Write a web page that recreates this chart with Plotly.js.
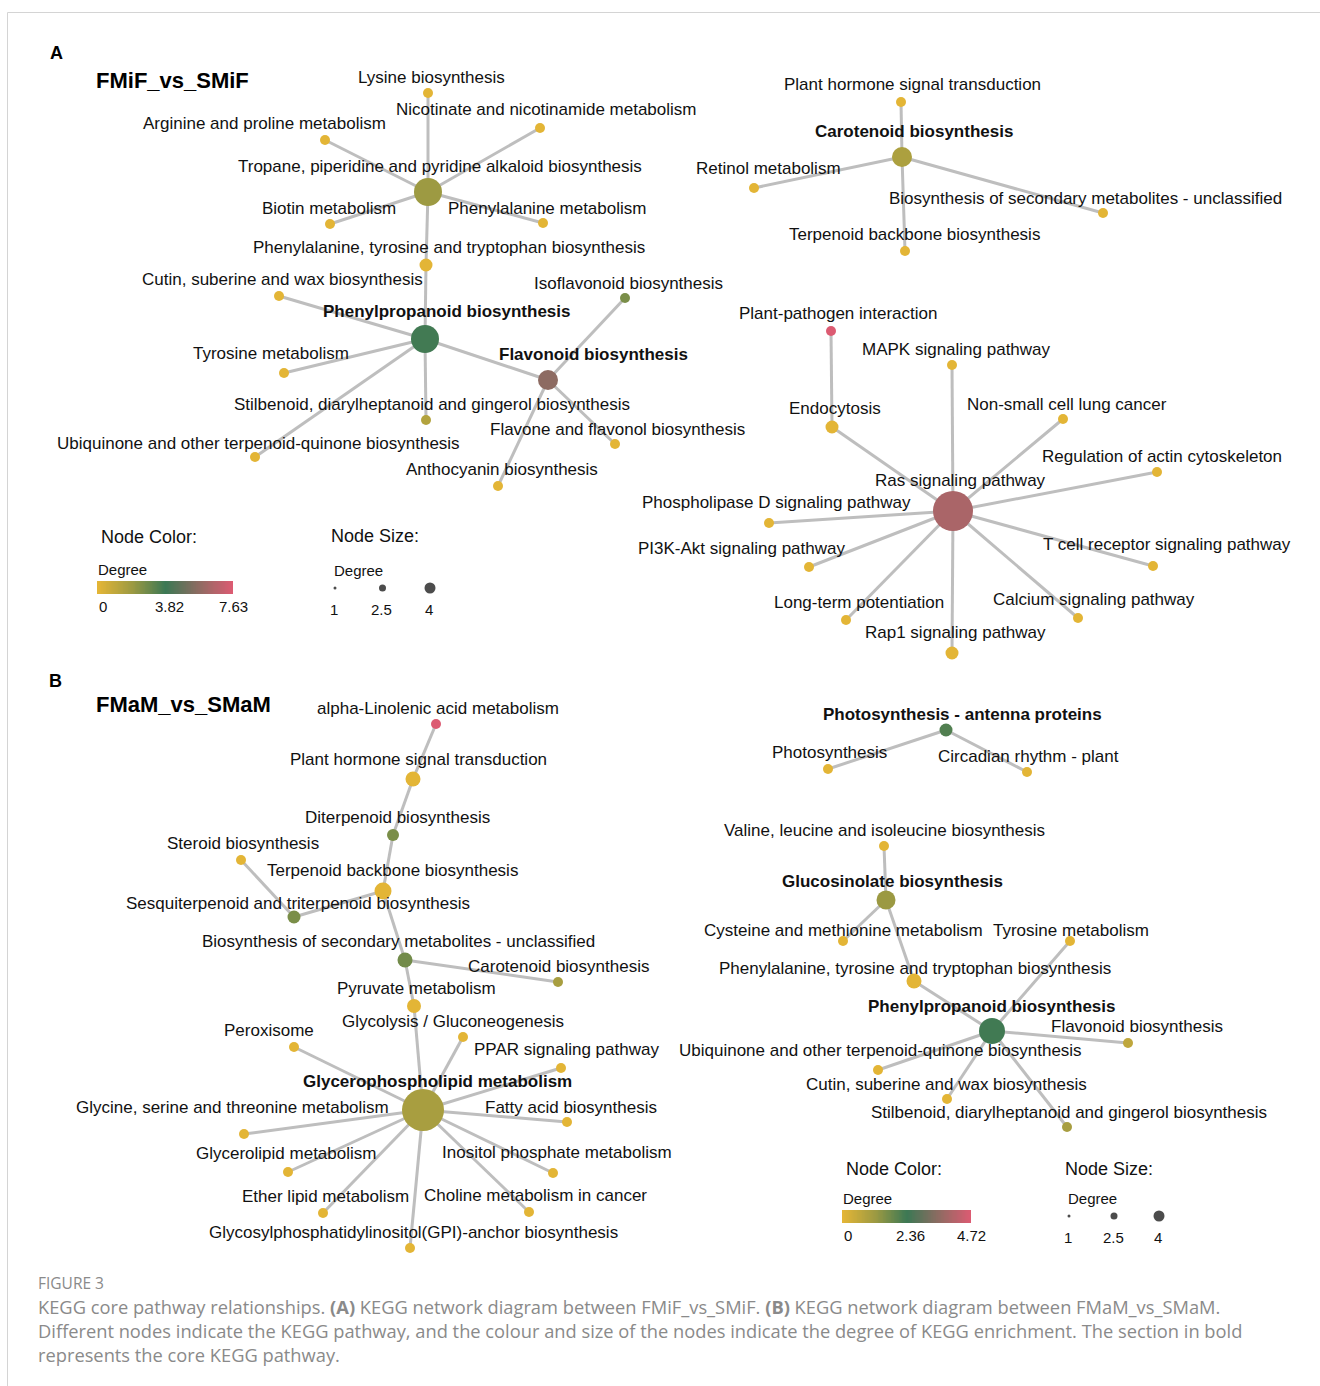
<!DOCTYPE html>
<html>
<head>
<meta charset="utf-8">
<script src="https://cdn.plot.ly/plotly-3.0.1.min.js"></script>
<style>
  html, body { margin: 0; padding: 0; background: #ffffff; }
  #fig { width: 1320px; height: 1386px; }
</style>
</head>
<body>
<div id="fig"></div>
<script>
// ---------------- Panel A: FMiF_vs_SMiF ----------------
const aNames = [
  "Tropane, piperidine and pyridine alkaloid biosynthesis",
  "Lysine biosynthesis",
  "Nicotinate and nicotinamide metabolism",
  "Arginine and proline metabolism",
  "Biotin metabolism",
  "Phenylalanine metabolism",
  "Phenylalanine, tyrosine and tryptophan biosynthesis",
  "Phenylpropanoid biosynthesis",
  "Cutin, suberine and wax biosynthesis",
  "Tyrosine metabolism",
  "Stilbenoid, diarylheptanoid and gingerol biosynthesis",
  "Ubiquinone and other terpenoid-quinone biosynthesis",
  "Flavonoid biosynthesis",
  "Isoflavonoid biosynthesis",
  "Flavone and flavonol biosynthesis",
  "Anthocyanin biosynthesis",
  "Carotenoid biosynthesis",
  "Plant hormone signal transduction",
  "Retinol metabolism",
  "Biosynthesis of secondary metabolites - unclassified",
  "Terpenoid backbone biosynthesis",
  "Ras signaling pathway",
  "Plant-pathogen interaction",
  "Endocytosis",
  "MAPK signaling pathway",
  "Non-small cell lung cancer",
  "Regulation of actin cytoskeleton",
  "T cell receptor signaling pathway",
  "Calcium signaling pathway",
  "Rap1 signaling pathway",
  "Long-term potentiation",
  "PI3K-Akt signaling pathway",
  "Phospholipase D signaling pathway"
];
// colour degree of each pathway (scale 0 - 7.63)
const aColorDegree = [1.9, 0, 0, 0, 0, 0, 0, 3.7, 0, 0, 1.3, 0, 5.7, 2.6, 0, 0,
  1.5, 0, 0, 0, 0, 6.4, 7.63, 0, 0, 0, 0, 0, 0, 0, 0, 0, 0];
// size degree of each pathway
const aSizeDegree = [5.5, 1, 1, 1, 1, 1, 1.75, 5.5, 1, 1, 1, 1, 3.5, 1, 1, 1,
  3.5, 1, 1, 1, 1, 8.5, 1, 1.75, 1, 1, 1, 1, 1, 1.75, 1, 1, 1];
// core pathways (bold labels)
const aCore = [7, 12, 16];
const aEdges = [[0,1],[0,2],[0,3],[0,4],[0,5],[0,6],[6,7],[7,8],[7,9],[7,10],[7,11],[7,12],
  [12,13],[12,14],[12,15],[16,17],[16,18],[16,19],[16,20],
  [22,23],[23,21],[21,24],[21,25],[21,26],[21,27],[21,28],[21,29],[21,30],[21,31],[21,32]];
const aColorTicks = [0, 3.82, 7.63];

// ---------------- Panel B: FMaM_vs_SMaM ----------------
const bNames = [
  "alpha-Linolenic acid metabolism",
  "Plant hormone signal transduction",
  "Diterpenoid biosynthesis",
  "Terpenoid backbone biosynthesis",
  "Steroid biosynthesis",
  "Sesquiterpenoid and triterpenoid biosynthesis",
  "Biosynthesis of secondary metabolites - unclassified",
  "Carotenoid biosynthesis",
  "Pyruvate metabolism",
  "Glycolysis / Gluconeogenesis",
  "PPAR signaling pathway",
  "Peroxisome",
  "Glycerophospholipid metabolism",
  "Glycine, serine and threonine metabolism",
  "Fatty acid biosynthesis",
  "Glycerolipid metabolism",
  "Inositol phosphate metabolism",
  "Ether lipid metabolism",
  "Choline metabolism in cancer",
  "Glycosylphosphatidylinositol(GPI)-anchor biosynthesis",
  "Photosynthesis - antenna proteins",
  "Photosynthesis",
  "Circadian rhythm - plant",
  "Valine, leucine and isoleucine biosynthesis",
  "Glucosinolate biosynthesis",
  "Cysteine and methionine metabolism",
  "Tyrosine metabolism",
  "Phenylalanine, tyrosine and tryptophan biosynthesis",
  "Phenylpropanoid biosynthesis",
  "Flavonoid biosynthesis",
  "Ubiquinone and other terpenoid-quinone biosynthesis",
  "Cutin, suberine and wax biosynthesis",
  "Stilbenoid, diarylheptanoid and gingerol biosynthesis"
];
// colour degree of each pathway (scale 0 - 4.72)
const bColorDegree = [4.72, 0, 1.6, 0, 0, 1.6, 1.7, 1.0, 0, 0, 0, 0, 1.0, 0, 0, 0, 0, 0, 0, 0,
  2.1, 0, 0, 0, 1.2, 0, 0, 0, 2.3, 0.6, 0, 0, 1.0];
const bSizeDegree = [1, 2.25, 1.5, 2.75, 1, 1.75, 2.25, 1, 2, 1, 1, 1, 9, 1, 1, 1, 1, 1, 1, 1,
  1.75, 1, 1, 1, 3.25, 1, 1, 2.25, 5, 1, 1, 1, 1];
const bCore = [12, 20, 24, 28];
const bEdges = [[0,1],[1,2],[2,3],[3,5],[5,4],[3,6],[6,7],[6,8],[8,12],
  [12,9],[12,10],[12,11],[12,13],[12,14],[12,15],[12,16],[12,17],[12,18],[12,19],
  [20,21],[20,22],[23,24],[24,25],[24,27],[27,28],[28,26],[28,29],[28,30],[28,31],[28,32]];
const bColorTicks = [0, 2.36, 4.72];

// size legend
const sizeLegendDegree = [1, 2.5, 4];

// ---------------- network layout (page coordinates) ----------------
const aLayoutX = [428,428,540,325,330,543,426,425,279,284,426,255,548,625,615,498,
  902,901,754,1103,905,953,831,832,952,1063,1157,1153,1078,952,846,809,769];
const aLayoutY = [192,93,128,140,224,223,265,339,296,373,420,457,380,298,444,486,
  157,102,188,213,251,511,331,427,365,419,472,566,618,653,620,567,523];
const aLabelX = [440,431,546,264,329,547,449,446,282,271,432,258,593,628,617,502,
  914,912,768,1085,914,960,838,835,956,1067,1162,1167,1094,955,859,741,776];
const aLabelY = [166,77,109,123,208,208,247,311,279,353,404,443,354,283,429,469,
  131,84,168,198,234,480,313,408,349,404,456,544,599,632,602,548,502];

const bLayoutX = [436,413,393,383,241,294,405,558,414,463,561,294,423,244,567,288,553,323,529,410,
  946,828,1027,884,886,843,1070,914,992,1128,878,947,1067];
const bLayoutY = [724,779,835,891,860,917,960,982,1006,1037,1068,1047,1110,1134,1122,1172,1173,1213,1212,1248,
  730,769,772,846,900,941,941,981,1031,1043,1070,1099,1127];
const bLabelX = [438,418,397,392,243,298,398,558,416,453,566,269,437,232,571,286,557,325,535,413,
  962,829,1028,884,892,843,1071,915,991,1137,880,946,1069];
const bLabelY = [708,759,817,870,843,903,941,966,988,1021,1049,1030,1081,1107,1107,1153,1152,1196,1195,1232,
  714,752,756,830,881,930,930,968,1006,1026,1050,1084,1112];

// ---------------- styling ----------------
const FONT = "Liberation Sans, Arial, Helvetica, sans-serif";
const CAPTION_FONT = "Open Sans, Noto Sans, sans-serif";
const degreeScale = [
  [0.00, "#E3B536"],
  [0.25, "#9D9A42"],
  [0.50, "#3C7854"],
  [0.75, "#8E6B62"],
  [1.00, "#DC5B72"]
];
const EDGE_COLOR = "#BEBEBE";
const nodeDiameter = s => 6 + 4 * s;
const legendDiameter = d => 3 + (d - 1) * 8 / 3;

const traces = [];
const annotations = [];

function addNetwork(names, colorDeg, sizeDeg, core, edges, nx, ny, lx, ly, cmax) {
  const ex = [], ey = [];
  edges.forEach(([i, j]) => {
    ex.push(nx[i], nx[j], null);
    ey.push(ny[i], ny[j], null);
  });
  traces.push({
    type: "scatter", mode: "lines", x: ex, y: ey,
    line: { color: EDGE_COLOR, width: 3 }, hoverinfo: "skip", showlegend: false
  });
  traces.push({
    type: "scatter", mode: "markers", x: nx, y: ny, text: names,
    hovertemplate: "%{text}<extra></extra>", showlegend: false,
    marker: {
      size: sizeDeg.map(nodeDiameter),
      color: colorDeg, colorscale: degreeScale, cmin: 0, cmax: cmax,
      showscale: false, line: { width: 0 }, opacity: 1
    }
  });
  names.forEach((n, k) => {
    const isCore = core.includes(k);
    annotations.push({
      x: lx[k], y: ly[k], xref: "x", yref: "y", showarrow: false,
      xanchor: "center", yanchor: "middle",
      text: isCore ? "<b>" + n + "</b>" : n,
      font: { family: FONT, size: 17, color: "#111111" }
    });
  });
}

// legend box: colour bar at (cx, cy) width cw; size dots from (sx, sy) spaced by step
function addLegend(ticks, g) {
  const cmax = ticks[ticks.length - 1];
  const barH = 13, N = 80;
  const zs = [], xs = [];
  for (let i = 0; i < N; i++) {
    xs.push(g.cx + (i + 0.5) * g.cw / N);
    zs.push(cmax * i / (N - 1));
  }
  traces.push({
    type: "heatmap", x: xs, y: [g.cy + barH / 4, g.cy + 3 * barH / 4], z: [zs, zs],
    colorscale: degreeScale, zmin: 0, zmax: cmax, showscale: false,
    hoverinfo: "skip", zsmooth: "best"
  });
  const txt = (x, y, t, size, anchor) => annotations.push({
    x, y, xref: "x", yref: "y", showarrow: false,
    xanchor: anchor || "left", yanchor: "middle", text: t,
    font: { family: FONT, size, color: "#111111" } });
  txt(g.cx + 2, g.colorTitleY, "Node Color:", 18);
  txt(g.cx - 1, g.cy - 12, "Degree", 15);
  ticks.forEach((t, k) => {
    const px = g.cx + g.cw * t / cmax;
    txt(k === 0 ? g.cx : px + (k === 1 ? 4 : 0), g.cy + 25, String(t), 15, k === 0 ? "left" : "center");
  });
  traces.push({
    type: "scatter", mode: "markers",
    x: sizeLegendDegree.map((d, k) => g.sx + k * g.step), y: sizeLegendDegree.map(() => g.sy),
    marker: { size: sizeLegendDegree.map(legendDiameter), color: "#000000", line: { width: 0 } },
    hoverinfo: "skip", showlegend: false
  });
  txt(g.sx - 6, g.sizeTitleY, "Node Size:", 18);
  txt(g.sx - 3, g.sy - 18, "Degree", 15);
  sizeLegendDegree.forEach((d, k) => txt(g.sx + k * g.step - 1, g.sy + 21, String(d), 15, "center"));
}

addNetwork(aNames, aColorDegree, aSizeDegree, aCore, aEdges,
  aLayoutX, aLayoutY, aLabelX, aLabelY, aColorTicks[2]);
addNetwork(bNames, bColorDegree, bSizeDegree, bCore, bEdges,
  bLayoutX, bLayoutY, bLabelX, bLabelY, bColorTicks[2]);

addLegend(aColorTicks, { cx: 97, cw: 136, cy: 581, colorTitleY: 537,
  sx: 335, sy: 588, step: 47.5, sizeTitleY: 536 });
addLegend(bColorTicks, { cx: 842, cw: 129, cy: 1210, colorTitleY: 1169,
  sx: 1069, sy: 1216, step: 45, sizeTitleY: 1169 });

// panel letters and titles
[["A", 48, 53], ["B", 47, 681]].forEach(([t, x, y]) => annotations.push({
  x, y, xref: "x", yref: "y", showarrow: false, xanchor: "left", yanchor: "middle",
  text: "<b>" + t + "</b>", font: { family: FONT, size: 18, color: "#000000" } }));
[["FMiF_vs_SMiF", 94, 80], ["FMaM_vs_SMaM", 94, 704]].forEach(([t, x, y]) => annotations.push({
  x, y, xref: "x", yref: "y", showarrow: false, xanchor: "left", yanchor: "middle",
  text: "<b>" + t + "</b>", font: { family: FONT, size: 22, color: "#000000" } }));

// figure caption
annotations.push({ x: 36, y: 1283, xref: "x", yref: "y", showarrow: false,
  xanchor: "left", yanchor: "middle", text: "FIGURE 3",
  font: { family: CAPTION_FONT, size: 15.5, color: "#8a8a8a" } });
const captionLines = [
  "KEGG core pathway relationships. <b>(A)</b> KEGG network diagram between FMiF_vs_SMiF. <b>(B)</b> KEGG network diagram between FMaM_vs_SMaM.",
  "Different nodes indicate the KEGG pathway, and the colour and size of the nodes indicate the degree of KEGG enrichment. The section in bold",
  "represents the core KEGG pathway."
];
captionLines.forEach((t, k) => annotations.push({
  x: 36, y: 1306 + k * 24, xref: "x", yref: "y", showarrow: false,
  xanchor: "left", yanchor: "middle", text: t,
  font: { family: CAPTION_FONT, size: 18.3, color: "#8a8a8a" } }));

const layout = {
  width: 1320, height: 1386,
  margin: { l: 0, r: 0, t: 0, b: 0 },
  paper_bgcolor: "#ffffff", plot_bgcolor: "#ffffff",
  xaxis: { range: [0, 1320], visible: false, fixedrange: true },
  yaxis: { range: [1386, 0], visible: false, fixedrange: true },
  showlegend: false,
  hovermode: "closest",
  annotations: annotations,
  shapes: [{
    type: "rect", xref: "x", yref: "y", x0: 7.5, y0: 12.5, x1: 1340, y1: 1400,
    line: { color: "#d4d4d4", width: 1 }, fillcolor: "rgba(0,0,0,0)", layer: "below"
  }]
};

Plotly.newPlot("fig", traces, layout, { displayModeBar: false });
</script>
</body>
</html>
